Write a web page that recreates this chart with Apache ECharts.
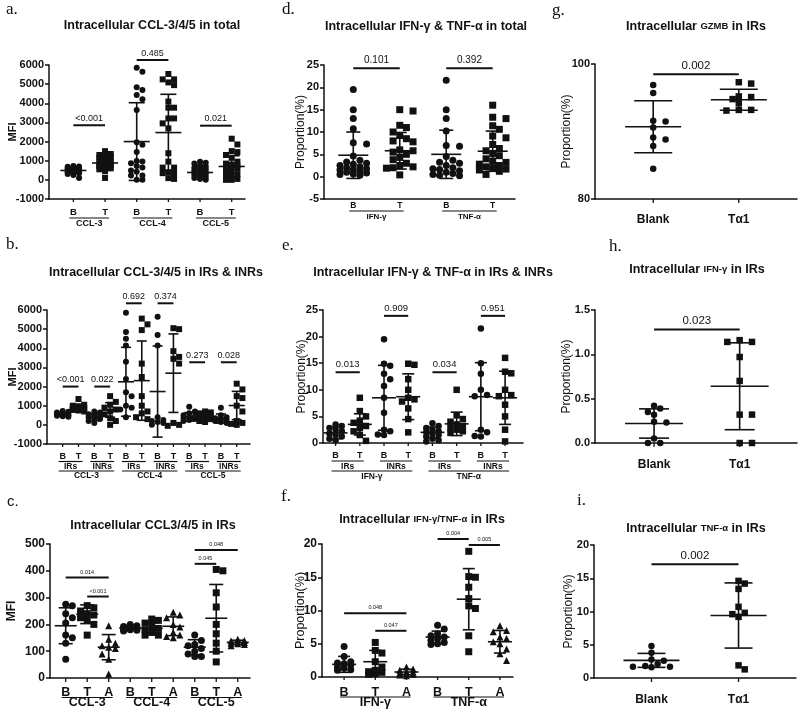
<!DOCTYPE html>
<html>
<head>
<meta charset="utf-8">
<script src="https://cdn.jsdelivr.net/npm/echarts@6/dist/echarts.min.js"></script>
<style>
html, body { margin: 0; padding: 0; background: #fff; }
#chart { width: 800px; height: 711px; }
</style>
</head>
<body>
<div id="chart"></div>
<script>
// ---------- values ----------
// a. CCL-3/4/5 in total (MFI)
const catsA = ['B', 'T', 'B', 'T', 'B', 'T']
const groupsA = [['CCL-3', 0, 1], ['CCL-4', 2, 3], ['CCL-5', 4, 5]]
const valuesA = [
  [720, 700, 680, 650, 620, 600, 580, 550, 530, 500, 480, 460, 450, 420, 400, 380, 350, 300, 250, 100],
  [1500, 1350, 1300, 1250, 1200, 1150, 1050, 1000, 950, 900, 850, 800, 780, 750, 700, 650, 600, 550, 450, 100],
  [5860, 5650, 4840, 4700, 4430, 4210, 3650, 1970, 1830, 1450, 990, 955, 870, 730, 640, 485, 430, 225, 225, 0, 0],
  [5530, 5250, 5250, 5090, 4950, 4090, 3770, 3770, 3210, 3210, 2950, 2690, 1390, 950, 640, 640, 350, 350, 90, 50, 400],
  [950, 900, 850, 750, 700, 650, 600, 550, 500, 450, 400, 380, 350, 300, 250, 200, 150, 100, 50, 0],
  [2150, 1850, 1500, 1450, 1300, 1150, 950, 850, 800, 750, 700, 650, 600, 500, 400, 300, 200, 150, 50, 0, 0]
]
const meanA = [490, 880, 2000, 2470, 385, 700]
const sdA = [150, 350, 2030, 2000, 330, 560]
const sigA = [[0, 1, 2850, '<0.001'], [2, 3, 6260, '0.485'], [4, 5, 2830, '0.021']]

// b. CCL-3/4/5 in IRs & INRs (MFI)
const catsB = ['B', 'T', 'B', 'T', 'B', 'T', 'B', 'T', 'B', 'T', 'B', 'T']
const subgroupsB = [['IRs', 0, 1], ['INRs', 2, 3], ['IRs', 4, 5], ['INRs', 6, 7], ['IRs', 8, 9], ['INRs', 10, 11]]
const groupsB = [['CCL-3', 0, 3], ['CCL-4', 4, 7], ['CCL-5', 8, 11]]
const valuesB = [
  [720, 680, 650, 600, 580, 550, 520, 500, 480, 450, 430],
  [1350, 1050, 1000, 950, 900, 880, 850, 800, 780, 750, 700],
  [700, 650, 550, 500, 450, 400, 350, 300, 200, 100],
  [1500, 1200, 1050, 900, 800, 700, 550, 350, 200, 0],
  [5850, 4850, 4500, 4150, 3300, 2400, 1700, 1500, 1000, 900, 800, 400],
  [5550, 5250, 4950, 3200, 2500, 1500, 1000, 700, 600, 400, 300],
  [5650, 4700, 4150, 400, 250, 200, 150, 100, 0],
  [5050, 5000, 3850, 3550, 3450, 3200, 100, 0, -50],
  [950, 700, 600, 500, 450, 400, 350, 300, 250, 200],
  [700, 650, 600, 550, 500, 450, 400, 300, 200, 150],
  [900, 500, 400, 350, 300, 250, 200, 150, 100],
  [2150, 1850, 1500, 1400, 1000, 700, 200, 100, 50, 0]
]
const meanB = [540, 900, 400, 780, 2250, 2310, 1740, 2700, 420, 480, 330, 1010]
const sdB = [90, 180, 180, 380, 1800, 2070, 2380, 2050, 220, 200, 240, 740]
const sigB = [[0, 1, 2000, '<0.001'], [2, 3, 2000, '0.022'], [4, 5, 6350, '0.692'],
  [6, 7, 6350, '0.374'], [8, 9, 3270, '0.273'], [10, 11, 3270, '0.028']]

// c. CCL3/4/5 in IRs (MFI)
const catsC = ['B', 'T', 'A', 'B', 'T', 'A', 'B', 'T', 'A']
const groupsC = [['CCL-3', 0, 2], ['CCL-4', 3, 5], ['CCL-5', 6, 8]]
const valuesC = [
  [275, 270, 240, 225, 205, 160, 150, 130, 70],
  [270, 262, 250, 240, 235, 225, 215, 200, 160],
  [195, 145, 130, 120, 115, 110, 90, 70, 15],
  [200, 195, 192, 188, 185, 182, 180, 178, 175],
  [220, 215, 205, 195, 185, 180, 170, 160, 160],
  [245, 235, 225, 200, 190, 170, 160, 155, 150],
  [160, 140, 125, 120, 110, 100, 90, 80, 80],
  [405, 400, 318, 265, 200, 165, 130, 100, 60],
  [145, 140, 138, 135, 132, 130, 128, 125, 120]
]
const meanC = [195, 238, 115, 187, 185, 193, 115, 223, 133]
const sdC = [67, 35, 47, 9, 22, 35, 28, 126, 8]
const sigC = [[0, 2, 375, '0.014'], [1, 2, 304, '<0.001'], [6, 8, 478, '0.048'], [6, 7, 426, '0.045']]

// d. IFN-γ & TNF-α in total (%)
const catsD = ['B', 'T', 'B', 'T']
const groupsD = [['IFN-γ', 0, 1], ['TNF-α', 2, 3]]
const valuesD = [
  [19.5, 15, 13, 10.7, 7.6, 7.3, 4.6, 3.7, 3.3, 3.0, 2.8, 2.5, 2.2, 2.0, 1.8, 1.6, 1.5, 1.2, 1.0, 0.8, 0.6, 0.5, 0.3],
  [15, 14.7, 11.5, 11, 10, 9.2, 8.5, 8.0, 7.8, 6.0, 5.8, 5.5, 5.0, 4.3, 3.8, 3.0, 2.5, 2.2, 2.0, 1.9, 0.4],
  [21.6, 15, 13, 10.2, 7.0, 6.8, 4.5, 3.7, 3.2, 3.0, 2.5, 2.0, 1.8, 1.6, 1.3, 1.0, 0.7, 0.5, 0.3, 0.2],
  [16, 13.3, 13, 11.4, 10.6, 9.1, 8.7, 7.2, 6.3, 5.8, 5.2, 4.7, 4.0, 3.5, 3.2, 2.8, 2.5, 2.2, 2.0, 1.7, 1.5, 1.2, 0.5]
]
const meanD = [4.8, 5.8, 5.0, 5.7]
const sdD = [5.2, 4.1, 5.4, 4.5]
const sigD = [[0, 1, 24.3, '0.101'], [2, 3, 24.3, '0.392']]

// e. IFN-γ & TNF-α in IRs & INRs (%)
const catsE = ['B', 'T', 'B', 'T', 'B', 'T', 'B', 'T']
const subgroupsE = [['IRs', 0, 1], ['INRs', 2, 3], ['IRs', 4, 5], ['INRs', 6, 7]]
const groupsE = [['IFN-γ', 0, 3], ['TNF-α', 4, 7]]
const valuesE = [
  [3.5, 3.2, 2.8, 2.5, 2.2, 1.8, 1.5, 1.2, 0.8, 0.5],
  [8.5, 6.0, 5.0, 4.2, 3.8, 3.2, 2.8, 2.2, 1.5, 0.4],
  [19.5, 14.9, 14.5, 13, 12, 10.7, 8.5, 5.7, 2.5, 2.2, 1.6, 1.5],
  [14.9, 14.7, 12, 10, 8.5, 8.2, 7.8, 6.5, 4.5, 2],
  [3.7, 3.2, 2.8, 2.5, 2.2, 2.0, 1.8, 1.5, 1.2, 0.8, 0.5, 0.3],
  [10, 5.2, 4.5, 4.0, 3.5, 3.2, 2.8, 2.5, 2.2, 1.9],
  [21.5, 15, 13, 10, 9, 8.8, 2.5, 2.0, 1.3, 1.2],
  [16, 13.4, 13.1, 10, 9, 8.8, 7.2, 5, 2.5, 0.3]
]
const meanE = [1.9, 3.5, 8.5, 8.7, 2.0, 3.6, 8.7, 8.5]
const sdE = [1.1, 2.0, 6.1, 4.3, 1.0, 2.2, 6.4, 5.0]
const sigE = [[0, 1, 13.3, '0.013'], [2, 3, 23.9, '0.909'], [4, 5, 13.3, '0.034'], [6, 7, 23.9, '0.951']]

// f. IFN-γ/TNF-α in IRs (%)
const catsF = ['B', 'T', 'A', 'B', 'T', 'A']
const groupsF = [['IFN-γ', 0, 2], ['TNF-α', 3, 5]]
const valuesF = [
  [4.6, 3.1, 2.3, 2.1, 2.0, 1.8, 1.5, 1.3, 1.1, 1.0],
  [5.2, 4.0, 3.6, 2.3, 1.5, 1.0, 0.8, 0.7, 0.5, 0.4],
  [1.5, 1.2, 1.0, 0.8, 0.7, 0.6, 0.5, 0.4, 0.3, 0.2],
  [7.8, 7.2, 6.5, 6.2, 6.0, 5.8, 5.5, 5.2, 5.0, 4.9],
  [18.9, 15.1, 15, 13.5, 11.8, 10.7, 10.3, 6.2, 3.8],
  [7.7, 7.0, 6.8, 6.0, 5.8, 5.3, 5.0, 4.2, 3.5, 2.5]
]
const meanF = [1.9, 2.3, 0.75, 6.0, 11.7, 5.3]
const sdF = [1.2, 1.7, 0.42, 0.9, 4.6, 1.7]
const sigF = [[0, 2, 9.6, '0.048'], [1, 2, 6.95, '0.047'], [3, 4, 20.75, '0.004'], [4, 5, 19.85, '0.005']]

// g. / h. / i. Blank vs Tα1 in IRs (%)
const catsGHI = ['Blank', 'Tα1']
const valuesG = [
  [96.9, 95.7, 91.5, 91.6, 90.6, 89.1, 88.8, 87.85, 84.5],
  [97.1, 97.3, 95.1, 94.8, 95.2, 94.2, 93.2, 93.1, 93.2]
]
const meanG = [90.7, 94.7]
const sdG = [3.85, 1.55]
const sigG = [[0, 1, 98.5, '0.002']]

const valuesH = [
  [0.42, 0.39, 0.35, 0.32, 0.24, 0.23, 0.05, 0.0, 0.0],
  [1.16, 1.14, 1.14, 0.97, 0.7, 0.32, 0.32, 0.0, 0.0]
]
const meanH = [0.22, 0.64]
const sdH = [0.165, 0.49]
const sigH = [[0, 1, 1.28, '0.023']]

const valuesI = [
  [4.8, 3.8, 2.8, 2.6, 2.1, 1.8, 1.7, 1.7, 1.6],
  [14.6, 14.2, 13.4, 10.7, 9.8, 9.6, 9.2, 1.9, 1.3]
]
const meanI = [2.65, 9.4]
const sdI = [1.05, 4.9]
const sigI = [[0, 1, 17.1, '0.002']]

// ---------- layout ----------
const ink = '#111'
const sans = "'Liberation Sans', Arial, sans-serif"
const serif = "'Liberation Serif', 'DejaVu Serif', serif"
const plain = v => String(v)

const panels = [
  { cats: catsA, l2: groupsA, values: valuesA, mean: meanA, sd: sdA, sig: sigA,
    left: 49, top: 65, width: 196, height: 134, xMin: -0.77, xMax: 5.42,
    yMin: -1000, yMax: 6000, yStep: 1000, yName: 'MFI', nameGap: 31, nameBold: true, nameSize: 11,
    tickFont: 11, sym: 6, spread: 11, meanHalf: 13, capHalf: 8, pFont: 9,
    rows: [13, 19, 25], catFont: 9.5, grpFont: 9, tickLen: 3 },
  { cats: catsB, l2: subgroupsB, l3: groupsB, values: valuesB, mean: meanB, sd: sdB, sig: sigB,
    left: 47, top: 310, width: 203, height: 134, xMin: -0.99, xMax: 11.84,
    yMin: -1000, yMax: 6000, yStep: 1000, yName: 'MFI', nameGap: 29, nameBold: true, nameSize: 11,
    tickFont: 11, sym: 6, spread: 7, meanHalf: 8, capHalf: 5, pFont: 9,
    rows: [13, 17.5, 22.5, 27, 32], catFont: 9, grpFont: 8.5, tickLen: 3 },
  { cats: catsC, l2: groupsC, values: valuesC, mean: meanC, sd: sdC, sig: sigC,
    left: 50, top: 544, width: 200, height: 134, xMin: -0.73, xMax: 8.57,
    yMin: 0, yMax: 500, yStep: 100, yName: 'MFI', nameGap: 32, nameBold: true, nameSize: 12,
    tickFont: 12, sym: 7, spread: 10, meanHalf: 11, capHalf: 7, pFont: 5.5,
    rows: [15, 19.5, 25], catFont: 12.5, grpFont: 12.5, tickLen: 4 },
  { cats: catsD, l2: groupsD, values: valuesD, mean: meanD, sd: sdD, sig: sigD,
    left: 324, top: 65, width: 191, height: 134, xMin: -0.63, xMax: 3.48,
    yMin: -5, yMax: 25, yStep: 5, yName: 'Proportion(%)', nameGap: 17, nameBold: false, nameSize: 12,
    tickFont: 11, sym: 7, spread: 15, meanHalf: 15, capHalf: 7, pFont: 10,
    rows: [7, 12, 18], catFont: 8.5, grpFont: 8, tickLen: 0 },
  { cats: catsE, l2: subgroupsE, l3: groupsE, values: valuesE, mean: meanE, sd: sdE, sig: sigE,
    left: 323, top: 310, width: 200, height: 133, xMin: -0.52, xMax: 7.74,
    yMin: 0, yMax: 25, yStep: 5, yName: 'Proportion(%)', nameGap: 15, nameBold: false, nameSize: 12,
    tickFont: 11, sym: 6.5, spread: 9, meanHalf: 12, capHalf: 6, pFont: 9.5,
    rows: [13, 18, 23.5, 28, 34], catFont: 9, grpFont: 8.5, tickLen: 3 },
  { cats: catsF, l2: groupsF, values: valuesF, mean: meanF, sd: sdF, sig: sigF,
    left: 322, top: 544, width: 191, height: 133, xMin: -0.71, xMax: 5.42,
    yMin: 0, yMax: 20, yStep: 5, yName: 'Proportion(%)', nameGap: 15, nameBold: false, nameSize: 12.5,
    tickFont: 12, sym: 7, spread: 12, meanHalf: 12, capHalf: 6, pFont: 5.5,
    rows: [15.5, 20, 26], catFont: 12.5, grpFont: 12.5, tickLen: 3 },
  { cats: catsGHI, values: valuesG, mean: meanG, sd: sdG, sig: sigG,
    left: 595, top: 64, width: 202, height: 135, xMin: -0.68, xMax: 1.68,
    yMin: 80, yMax: 100, yStep: 20, yName: 'Proportion(%)', nameGap: 22, nameBold: false, nameSize: 12,
    tickFont: 11, sym: 6.5, spread: 25, meanHalf: 28, capHalf: 19, pFont: 11.5,
    rows: [21], catFont: 12, tickLen: 4 },
  { cats: catsGHI, values: valuesH, mean: meanH, sd: sdH, sig: sigH,
    left: 595, top: 310, width: 202, height: 133, xMin: -0.69, xMax: 1.67,
    yMin: 0, yMax: 1.5, yStep: 0.5, yName: 'Proportion(%)', nameGap: 22, nameBold: false, nameSize: 12,
    tickFont: 11, sym: 6.5, spread: 25, meanHalf: 29, capHalf: 15, pFont: 11.5, yFmt: v => v.toFixed(1),
    rows: [22], catFont: 12, tickLen: 4 },
  { cats: catsGHI, values: valuesI, mean: meanI, sd: sdI, sig: sigI,
    left: 594, top: 545, width: 202, height: 133, xMin: -0.66, xMax: 1.66,
    yMin: 0, yMax: 20, yStep: 5, yName: 'Proportion(%)', nameGap: 19, nameBold: false, nameSize: 12,
    tickFont: 11, sym: 6.5, spread: 25, meanHalf: 28, capHalf: 14, pFont: 11.5,
    rows: [22], catFont: 12, tickLen: 4 }
]

const headers = [
  ['Intracellular CCL-3/4/5 in total', 152, 19],
  ['Intracellular CCL-3/4/5 in IRs & INRs', 156, 266],
  ['Intracellular CCL3/4/5 in IRs', 153, 519],
  ['Intracellular IFN-γ & TNF-α in total', 426, 20],
  ['Intracellular IFN-γ & TNF-α in IRs & INRs', 433, 266],
  ['Intracellular {s|IFN-γ/TNF-α} in IRs', 422, 513],
  ['Intracellular {s|GZMB} in IRs', 696, 20],
  ['Intracellular {s|IFN-γ} in IRs', 697, 263],
  ['Intracellular {s|TNF-α} in IRs', 696, 522]
]
const letters = [
  ['a.', 6, 1, serif], ['b.', 6, 236, serif], ['c.', 7, 494, sans],
  ['d.', 282, 1, serif], ['e.', 282, 237, serif], ['f.', 281, 488, serif],
  ['g.', 552, 2, serif], ['h.', 609, 238, serif], ['i.', 577, 492, serif]
]

function symbolFor(cat) {
  if (cat === 'T' || cat === 'Tα1') return 'rect'
  if (cat === 'A') return 'triangle'
  return 'circle'
}

// beeswarm style horizontal spread (pixels), limited to +-maxOff
function swarm(vals, pxPerVal, size, maxOff) {
  const placed = []
  const out = new Array(vals.length)
  const order = vals.map((v, i) => i).sort((a, b) => vals[b] - vals[a])
  const step = size * 0.95
  for (const i of order) {
    const py = vals[i] * pxPerVal
    let best = 0, bestOv = Infinity
    for (let k = 0; k < 40; k++) {
      const off = k === 0 ? 0 : (k % 2 ? 1 : -1) * Math.ceil(k / 2) * step
      if (Math.abs(off) > maxOff) break
      let ov = 0
      for (const p of placed) {
        const d = Math.hypot(p[0] - off, p[1] - py)
        if (d < size) ov += size - d
      }
      if (ov === 0) { best = off; bestOv = 0; break }
      if (ov < bestOv) { bestOv = ov; best = off }
    }
    placed.push([best, py])
    out[i] = best
  }
  return out
}

function seg(x1, y1, x2, y2, w) {
  return { type: 'line', shape: { x1, y1, x2, y2 }, style: { stroke: ink, lineWidth: w } }
}

const option = { animation: false, title: [], grid: [], xAxis: [], yAxis: [], series: [] }

headers.forEach(h => {
  option.title.push({
    text: h[0], left: h[1], top: h[2], textAlign: 'center', padding: 0,
    textStyle: { fontFamily: sans, fontWeight: 'bold', fontSize: 12.5, color: ink,
      rich: { s: { fontFamily: sans, fontWeight: 'bold', fontSize: 9.5, color: ink } } }
  })
})
letters.forEach(l => {
  option.title.push({
    text: l[0], left: l[1], top: l[2], padding: 0,
    textStyle: { fontFamily: l[3], fontWeight: 'normal', fontSize: l[3] === sans ? 15 : 17, color: ink }
  })
})

panels.forEach((P, i) => {
  option.grid.push({ left: P.left, top: P.top, width: P.width, height: P.height })
  option.xAxis.push({
    gridIndex: i, type: 'value', min: P.xMin, max: P.xMax,
    axisLine: { onZero: false, lineStyle: { color: ink, width: 1.5 } },
    axisTick: { show: false }, axisLabel: { show: false }, splitLine: { show: false }
  })
  option.yAxis.push({
    gridIndex: i, type: 'value', min: P.yMin, max: P.yMax, interval: P.yStep,
    name: P.yName, nameLocation: 'middle', nameGap: P.nameGap, nameRotate: 90, nameMoveOverlap: false,
    nameTextStyle: { fontFamily: sans, fontWeight: P.nameBold ? 'bold' : 'normal', fontSize: P.nameSize, color: ink },
    axisLine: { show: true, onZero: false, lineStyle: { color: ink, width: 1.5 } },
    axisTick: { show: true, length: 4, lineStyle: { color: ink, width: 1.5 } },
    axisLabel: { color: ink, fontFamily: sans, fontWeight: 'bold', fontSize: P.tickFont, margin: 5, formatter: P.yFmt || plain },
    splitLine: { show: false }
  })

  const pxY = P.height / (P.yMax - P.yMin)
  const pxX = P.width / (P.xMax - P.xMin)

  // dots
  P.values.forEach((vals, k) => {
    const offs = swarm(vals, pxY, P.sym, P.spread)
    option.series.push({
      type: 'scatter', xAxisIndex: i, yAxisIndex: i, silent: true, z: 2,
      symbol: symbolFor(P.cats[k]), symbolSize: P.sym,
      itemStyle: { color: ink, opacity: 1 },
      data: vals.map((v, j) => [k + offs[j] / pxX, v])
    })
  })

  // mean +- SD
  option.series.push({
    type: 'custom', xAxisIndex: i, yAxisIndex: i, silent: true, z: 3, clip: false,
    data: P.mean.map((m, k) => [k, m, P.sd[k]]),
    renderItem(params, api) {
      const x = api.value(0), m = api.value(1), s = api.value(2)
      const c = api.coord([x, m]), hi = api.coord([x, m + s]), lo = api.coord([x, m - s])
      return {
        type: 'group', children: [
          seg(c[0] - P.meanHalf, c[1], c[0] + P.meanHalf, c[1], 1.6),
          seg(hi[0], hi[1], lo[0], lo[1], 1.6),
          seg(hi[0] - P.capHalf, hi[1], hi[0] + P.capHalf, hi[1], 1.6),
          seg(lo[0] - P.capHalf, lo[1], lo[0] + P.capHalf, lo[1], 1.6)
        ]
      }
    }
  })

  // significance bars
  option.series.push({
    type: 'custom', xAxisIndex: i, yAxisIndex: i, silent: true, z: 3, clip: false,
    data: P.sig.map(s => [s[0], s[2], s[1]]),
    renderItem(params, api) {
      const a = api.coord([api.value(0), api.value(1)])
      const b = api.coord([api.value(2), api.value(1)])
      return {
        type: 'group', children: [
          seg(a[0], a[1], b[0], b[1], 2),
          { type: 'text', x: (a[0] + b[0]) / 2, y: a[1] - 2.5,
            style: { text: P.sig[params.dataIndex][3], fill: ink, font: `${P.pFont}px ${sans}`, align: 'center', verticalAlign: 'bottom' } }
        ]
      }
    }
  })

  // category labels and ticks under the x axis
  option.series.push({
    type: 'custom', xAxisIndex: i, yAxisIndex: i, silent: true, z: 3, clip: false,
    data: P.cats.map((c, k) => [k, P.yMin]),
    renderItem(params, api) {
      const c = api.coord([api.value(0), api.value(1)])
      const kids = []
      if (P.tickLen) kids.push(seg(c[0], c[1], c[0], c[1] + P.tickLen, 1.3))
      kids.push({ type: 'text', x: c[0], y: c[1] + P.rows[0],
        style: { text: P.cats[params.dataIndex], fill: ink, font: `bold ${P.catFont}px ${sans}`, align: 'center', verticalAlign: 'middle' } })
      return { type: 'group', children: kids }
    }
  })

  // grouped labels (one or two levels) with rules above them
  const levels = [P.l2, P.l3].filter(Boolean)
  levels.forEach((grp, lv) => {
    option.series.push({
      type: 'custom', xAxisIndex: i, yAxisIndex: i, silent: true, z: 3, clip: false,
      data: grp.map(g => [g[1], P.yMin, g[2]]),
      renderItem(params, api) {
        const a = api.coord([api.value(0), api.value(1)])
        const b = api.coord([api.value(2), api.value(1)])
        const ly = a[1] + P.rows[1 + lv * 2], ty = a[1] + P.rows[2 + lv * 2]
        return {
          type: 'group', children: [
            seg(a[0] - 4, ly, b[0] + 4, ly, 1.2),
            { type: 'text', x: (a[0] + b[0]) / 2, y: ty,
              style: { text: grp[params.dataIndex][0], fill: ink, font: `bold ${P.grpFont}px ${sans}`, align: 'center', verticalAlign: 'middle' } }
          ]
        }
      }
    })
  })
})

const chart = echarts.init(document.getElementById('chart'))
chart.setOption(option)
</script>
</body>
</html>
